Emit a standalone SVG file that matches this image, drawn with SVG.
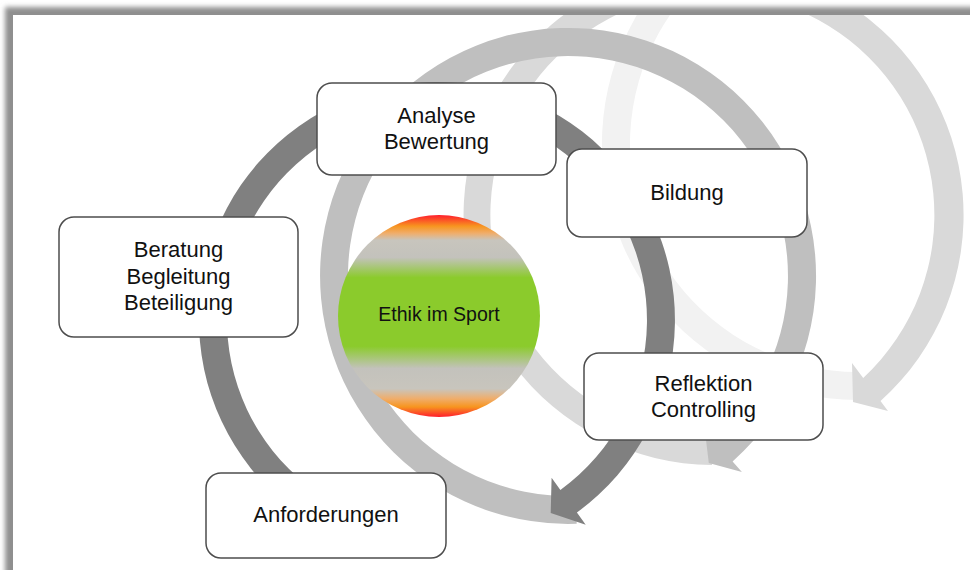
<svg xmlns="http://www.w3.org/2000/svg" width="970" height="570" viewBox="0 0 970 570">
<defs>
<style>
.box{fill:#ffffff;stroke:#4d4d4d;stroke-width:1.5}
.lbl{font-family:"Liberation Sans",Arial,sans-serif;font-size:22px;fill:#111111;text-anchor:middle}
.ring{stroke:none}
</style>
<filter id="shadowBlur" filterUnits="userSpaceOnUse" x="-30" y="-30" width="1100" height="700">
<feGaussianBlur stdDeviation="2.6"/>
</filter>
<clipPath id="content"><rect x="13" y="15" width="957" height="555"/></clipPath>
<linearGradient id="ballGrad" x1="0" y1="0" x2="0" y2="1">
<stop offset="0" stop-color="#ff1e2d"/>
<stop offset="0.055" stop-color="#f7951f"/>
<stop offset="0.09" stop-color="#f0ad6a"/>
<stop offset="0.125" stop-color="#c8c5bd"/>
<stop offset="0.21" stop-color="#c3c2bc"/>
<stop offset="0.31" stop-color="#8bcb2c"/>
<stop offset="0.65" stop-color="#8bcb2c"/>
<stop offset="0.76" stop-color="#c3c2bc"/>
<stop offset="0.86" stop-color="#c8c5bd"/>
<stop offset="0.91" stop-color="#f0ad6a"/>
<stop offset="0.95" stop-color="#f7951f"/>
<stop offset="1" stop-color="#ff1e2d"/>
</linearGradient>
</defs>

<rect x="0" y="0" width="970" height="570" fill="#ffffff"/>
<rect x="5" y="7" width="1000" height="600" fill="#8f8f8f" filter="url(#shadowBlur)"/>
<rect x="13" y="15" width="957" height="555" fill="#ffffff"/>

<g id="connectors" clip-path="url(#content)">
<path id="arrow-d" class="ring" fill="#f2f2f2" d="M858,400 A256,256 0 1,1 1029.3,334.2 L1038.7,344.6 L1003.6,337.3 L1001.2,303 L1010.6,313.4 A228,228 0 1,0 858,372 Z"/>
<path id="arrow-c" class="ring" fill="#d9d9d9" d="M712,465 A250,250 0 1,1 880.5,401.1 L888,411 L853,402 L852,363 L863.2,377.9 A222,222 0 1,0 712,437 Z"/>
<path id="arrow-b" class="ring" fill="#bfbfbf" d="M576.7,523.8 A248,248 0 1,1 732.6,461.5 L741.9,471.9 L708.8,462.9 L704.8,430 L714.1,440.5 A220,220 0 1,0 575.7,495.9 Z"/>
<path id="arrow-a" class="ring" fill="#808080" d="M416.3,557.1 A238,238 0 1,1 576.9,512.5 L585.7,524.7 L550.7,513 L551.6,477.8 L560.4,489.9 A210,210 0 1,0 418.7,529.2 Z"/>
</g>

<g id="n-ethik">
<circle cx="439" cy="316" r="101" fill="url(#ballGrad)"/>
<text class="lbl" x="439" y="321" style="font-size:19.5px">Ethik im Sport</text>
</g>

<g id="n-analyse">
<rect class="box" x="317" y="83" width="239" height="92" rx="15" ry="15"/>
<text class="lbl"><tspan x="436.5" y="123">Analyse</tspan><tspan x="436.5" y="149">Bewertung</tspan></text>
</g>

<g id="n-bildung">
<rect class="box" x="567" y="149" width="240" height="88" rx="15" ry="15"/>
<text class="lbl" x="687" y="200">Bildung</text>
</g>

<g id="n-beratung">
<rect class="box" x="59" y="217" width="239" height="120" rx="15" ry="15"/>
<text class="lbl"><tspan x="178.5" y="257">Beratung</tspan><tspan x="178.5" y="283.5">Begleitung</tspan><tspan x="178.5" y="310">Beteiligung</tspan></text>
</g>

<g id="n-reflektion">
<rect class="box" x="584" y="353" width="239" height="87" rx="15" ry="15"/>
<text class="lbl"><tspan x="703.5" y="391">Reflektion</tspan><tspan x="703.5" y="417">Controlling</tspan></text>
</g>

<g id="n-anforderungen">
<rect class="box" x="206" y="473" width="240" height="85" rx="15" ry="15"/>
<text class="lbl" x="326" y="522">Anforderungen</text>
</g>
</svg>
